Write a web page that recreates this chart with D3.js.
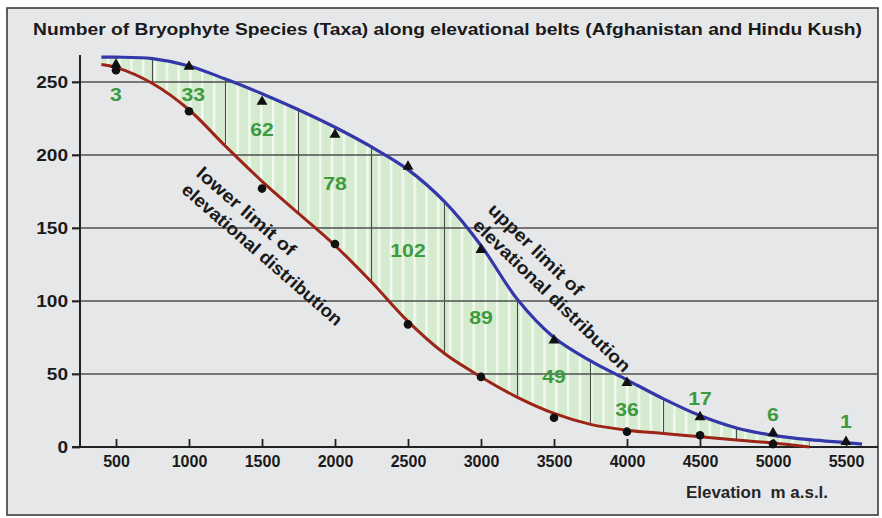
<!DOCTYPE html>
<html>
<head>
<meta charset="utf-8">
<script src="https://cdn.jsdelivr.net/npm/d3@7"></script>
<style>
  html, body { margin: 0; padding: 0; background: #fff; }
  svg { display: block; font-family: "Liberation Sans", Arial, sans-serif; }
  .tick-lab { font-weight: bold; fill: #1a1a1a; }
  .belt-lab { font-weight: bold; fill: #3d9a3e; }
  .note { font-weight: bold; fill: #1a1a1a; }
</style>
</head>
<body>
<svg id="chart" width="882" height="518"></svg>
<script>
// ========= data =========
const elevations = [500, 1000, 1500, 2000, 2500, 3000, 3500, 4000, 4500, 5000, 5500];
const countTicks = [0, 50, 100, 150, 200, 250];

// species per belt
const beltCounts = [3, 33, 62, 78, 102, 89, 49, 36, 17, 6, 1];
// where each belt number sits: [elevation, species level]
const beltLabelAt = [
    [500, 237], [1030, 237], [1500, 213], [2000, 176], [2500, 130], [3000, 84],
    [3500, 44], [4000, 21.5], [4500, 29], [5000, 17.5], [5500, 13]
];

// observed upper / lower limits (markers)
const upperMarks = [262, 260.5, 236.5, 214, 192, 135, 73, 44, 20.5, 9.5, 3.6];
const lowerMarks = [258, 230, 177, 139, 84, 48, 20, 10.5, 8, 2, null];

// fitted curves [elevation, species]
const upperCurve = [
    [400, 267], [500, 267], [750, 266], [1000, 261], [1250, 252], [1500, 242],
    [1750, 231], [2000, 219], [2250, 205.5], [2500, 190], [2750, 168], [3000, 138],
    [3250, 101], [3500, 75], [3750, 59], [4000, 46], [4250, 33], [4500, 21.5],
    [4750, 13], [5000, 8], [5250, 5], [5500, 3], [5610, 2]
];
const lowerCurve = [
    [400, 262], [500, 260], [750, 249], [1000, 231], [1250, 206], [1500, 182],
    [1750, 160], [2000, 138], [2250, 113], [2500, 86], [2750, 64], [3000, 48],
    [3250, 34], [3500, 23], [3750, 15.5], [4000, 11.5], [4250, 9.2], [4500, 7],
    [4750, 4.8], [5000, 2.7], [5250, 0]
];

// belt borders
const beltBorders = [750, 1250, 1750, 2250, 2750, 3250, 3750, 4250, 4750, 5250];

// ========= svg =========
const svg = d3.select("#chart");

const x = d3.scaleLinear().domain([0, 5500]).range([43, 846]);
const y = d3.scaleLinear().domain([0, 250]).range([447, 82]);
const smooth = d3.curveCatmullRom.alpha(0.5);

const frame = { left: 7, top: 8, right: 878, bottom: 515 };

svg.append("rect")
    .attr("x", frame.left)
    .attr("y", frame.top)
    .attr("width", frame.right - frame.left)
    .attr("height", frame.bottom - frame.top)
    .attr("fill", "#e6e7e9")
    .attr("stroke", "#3c3c3c")
    .attr("stroke-width", 1.6);

svg.append("text")
    .attr("class", "tick-lab")
    .attr("x", 33)
    .attr("y", 35)
    .attr("font-size", 16.5)
    .attr("textLength", 829)
    .attr("lengthAdjust", "spacingAndGlyphs")
    .text("Number of Bryophyte Species (Taxa) along elevational belts (Afghanistan and Hindu Kush)");

// ========= fill between curves =========
const defs = svg.append("defs");

const pattern = defs.append("pattern")
    .attr("id", "stripes")
    .attr("patternUnits", "userSpaceOnUse")
    .attr("x", 0.5)
    .attr("y", 0)
    .attr("width", 11.8)
    .attr("height", 20);
pattern.append("rect").attr("width", 11.8).attr("height", 20).attr("fill", "#d4ebcf");
pattern.append("rect").attr("x", 0).attr("width", 2.4).attr("height", 20).attr("fill", "#f3f9f1");

const belowUpper = d3.area()
    .x(d => x(d[0]))
    .y0(y(0) + 5)
    .y1(d => y(d[1]))
    .curve(smooth);

const aboveLower = d3.area()
    .x(d => x(d[0]))
    .y0(frame.top)
    .y1(d => y(d[1]))
    .curve(smooth);

defs.append("clipPath").attr("id", "clip-upper")
    .append("path").attr("d", belowUpper(upperCurve));
defs.append("clipPath").attr("id", "clip-lower")
    .append("path").attr("d", aboveLower(lowerCurve));

const band = svg.append("g").attr("clip-path", "url(#clip-upper)")
    .append("g").attr("clip-path", "url(#clip-lower)");

band.append("rect")
    .attr("x", frame.left)
    .attr("y", frame.top)
    .attr("width", frame.right - frame.left)
    .attr("height", frame.bottom - frame.top)
    .attr("fill", "url(#stripes)");

// ========= grid + axes =========
svg.append("g")
    .selectAll("line")
    .data(countTicks.filter(d => d > 0))
    .join("line")
    .attr("x1", 72)
    .attr("x2", frame.right)
    .attr("y1", d => y(d))
    .attr("y2", d => y(d))
    .attr("stroke", "#505050")
    .attr("stroke-width", 1.3);

band.selectAll(".border")
    .data(beltBorders)
    .join("line")
    .attr("class", "border")
    .attr("x1", d => x(d))
    .attr("x2", d => x(d))
    .attr("y1", frame.top)
    .attr("y2", frame.bottom)
    .attr("stroke", "#4a4a4a")
    .attr("stroke-width", 1.1);

const yAxis = svg.append("g")
    .attr("transform", "translate(80,0)")
    .call(d3.axisLeft(y).tickValues(countTicks).tickSize(8).tickPadding(4));
yAxis.select(".domain").remove();
yAxis.selectAll("line").attr("stroke", "#222").attr("stroke-width", 1.8);
yAxis.selectAll("text")
    .attr("class", "tick-lab")
    .attr("font-size", 16)
    .attr("font-family", null)
    .attr("textLength", d => String(d).length * 10.6)
    .attr("lengthAdjust", "spacingAndGlyphs");

const xAxis = svg.append("g")
    .attr("transform", `translate(0,${y(0)})`)
    .call(d3.axisBottom(x).tickValues(elevations).tickFormat(d3.format("d"))
        .tickSize(-8).tickPadding(9));
xAxis.select(".domain").remove();
xAxis.selectAll("line").attr("stroke", "#222").attr("stroke-width", 1.8);
xAxis.selectAll("text")
    .attr("class", "tick-lab")
    .attr("font-size", 16)
    .attr("font-family", null)
    .attr("y", 9)
    .attr("dy", "0.71em");

svg.append("line")
    .attr("x1", 80).attr("x2", 80)
    .attr("y1", 55).attr("y2", y(0))
    .attr("stroke", "#222").attr("stroke-width", 2);

svg.append("line")
    .attr("x1", 72).attr("x2", frame.right)
    .attr("y1", y(0)).attr("y2", y(0))
    .attr("stroke", "#222").attr("stroke-width", 2);

svg.append("text")
    .attr("x", 686)
    .attr("y", 498)
    .attr("font-size", 16)
    .attr("font-weight", "bold")
    .attr("fill", "#262626")
    .attr("textLength", 142)
    .attr("lengthAdjust", "spacingAndGlyphs")
    .style("white-space", "pre")
    .text("Elevation  m a.s.l.");

// ========= curves =========
const line = d3.line()
    .x(d => x(d[0]))
    .y(d => y(d[1]))
    .curve(smooth);

svg.append("path")
    .attr("d", line(lowerCurve))
    .attr("fill", "none")
    .attr("stroke", "#9c2517")
    .attr("stroke-width", 3);

svg.append("path")
    .attr("d", line(upperCurve))
    .attr("fill", "none")
    .attr("stroke", "#3437aa")
    .attr("stroke-width", 3.2);

// ========= markers =========
svg.append("g")
    .selectAll("path")
    .data(elevations.map((e, i) => [e, upperMarks[i]]))
    .join("path")
    .attr("transform", d => `translate(${x(d[0])},${y(d[1])})`)
    .attr("d", d3.symbol(d3.symbolTriangle, 52))
    .attr("fill", "#111");

svg.append("g")
    .selectAll("circle")
    .data(elevations.map((e, i) => [e, lowerMarks[i]]).filter(d => d[1] != null))
    .join("circle")
    .attr("cx", d => x(d[0]))
    .attr("cy", d => y(d[1]))
    .attr("r", 4.3)
    .attr("fill", "#111");

// ========= belt numbers =========
svg.append("g")
    .selectAll("text")
    .data(beltCounts.map((c, i) => ({ c, at: beltLabelAt[i] })))
    .join("text")
    .attr("class", "belt-lab")
    .attr("x", d => x(d.at[0]))
    .attr("y", d => y(d.at[1]))
    .attr("text-anchor", "middle")
    .attr("font-size", 18)
    .attr("textLength", d => String(d.c).length * 11.8)
    .attr("lengthAdjust", "spacingAndGlyphs")
    .text(d => d.c);

// ========= notes along curves =========
function note(px, py, angle, lines, lengths) {
    const gN = svg.append("g")
        .attr("transform", `translate(${px},${py}) rotate(${angle})`);
    lines.forEach((t, i) => {
        gN.append("text")
            .attr("class", "note")
            .attr("x", 0)
            .attr("y", i * 22)
            .attr("font-size", 18)
            .attr("textLength", lengths[i])
            .attr("lengthAdjust", "spacingAndGlyphs")
            .text(t);
    });
}

note(195, 175, 41, ["lower limit of", "elevational distribution"], [125, 206]);
note(487, 211, 44, ["upper limit of", "elevational distribution"], [124, 211]);
</script>
</body>
</html>
